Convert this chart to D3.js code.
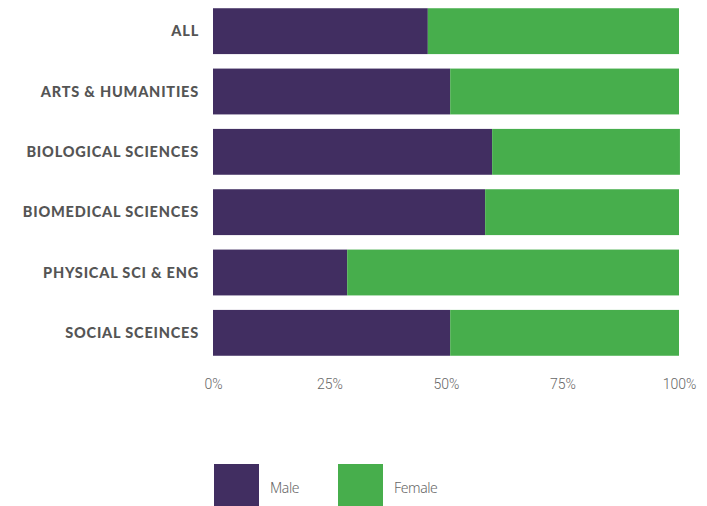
<!DOCTYPE html>
<html><head><meta charset="utf-8">
<script src="https://cdn.jsdelivr.net/npm/d3@7"></script>
<style>body{margin:0;background:#fff;} svg{display:block;}</style>
</head><body>
<svg id="chart" width="707" height="506"></svg>
<script>
const categories = ["ALL","ARTS & HUMANITIES","BIOLOGICAL SCIENCES","BIOMEDICAL SCIENCES","PHYSICAL SCI & ENG","SOCIAL SCEINCES"];
const male   = [46.1, 50.9, 59.9, 58.4, 28.8, 50.9];
const female = [53.9, 49.1, 40.3, 41.6, 71.2, 49.1];
const seriesNames = ["Male","Female"];
const colors = ["#412e61","#47ae4c"];
const tickValues = [0,25,50,75,100];

const svg = d3.select("#chart");
const x = d3.scaleLinear().domain([0,100]).range([213,679]);
const y = d3.scaleBand().domain(categories).range([1,363]).paddingInner(0.24).paddingOuter(0.12);

const rows = categories.map((c,i)=>({cat:c, Male:male[i], Female:female[i]}));
const stacked = d3.stack().keys(seriesNames)(rows);

svg.append("g").selectAll("g").data(stacked).join("g")
  .attr("fill",(d,i)=>colors[i])
  .selectAll("rect").data(d=>d).join("rect")
  .attr("x",d=>x(d[0]))
  .attr("width",d=>x(d[1])-x(d[0]))
  .attr("y",d=>y(d.data.cat))
  .attr("height",y.bandwidth());

svg.append("g").selectAll("text").data(categories).join("text")
  .attr("x",199).attr("y",d=>y(d)+y.bandwidth()/2)
  .attr("dy","0.35em").attr("text-anchor","end")
  .attr("font-family","Lato, sans-serif").attr("font-weight","900")
  .attr("font-size","14.5px").attr("letter-spacing","0.8px").attr("fill","#555")
  .text(d=>d);

const xAxis = d3.axisBottom(x).tickValues(tickValues).tickFormat(d=>d+"%").tickSize(0).tickPadding(0);
const ax = svg.append("g").attr("transform","translate(0,379)").call(xAxis);
ax.select(".domain").remove();
ax.selectAll("text").attr("font-family","Roboto, sans-serif").attr("font-weight","300")
  .attr("font-size","14px").attr("fill","#666");

const leg = svg.append("g").selectAll("g").data(seriesNames).join("g")
  .attr("transform",(d,i)=>`translate(${214+i*124},464)`);
leg.append("rect").attr("width",45).attr("height",42).attr("fill",(d,i)=>colors[i]);
leg.append("text").attr("x",56).attr("y",24).attr("dy","0.35em")
  .attr("font-family","'Noto Sans', sans-serif").attr("font-weight","300")
  .attr("font-size","14px").attr("fill","#666").attr("letter-spacing","-0.4px").text(d=>d);
</script>
</body></html>
